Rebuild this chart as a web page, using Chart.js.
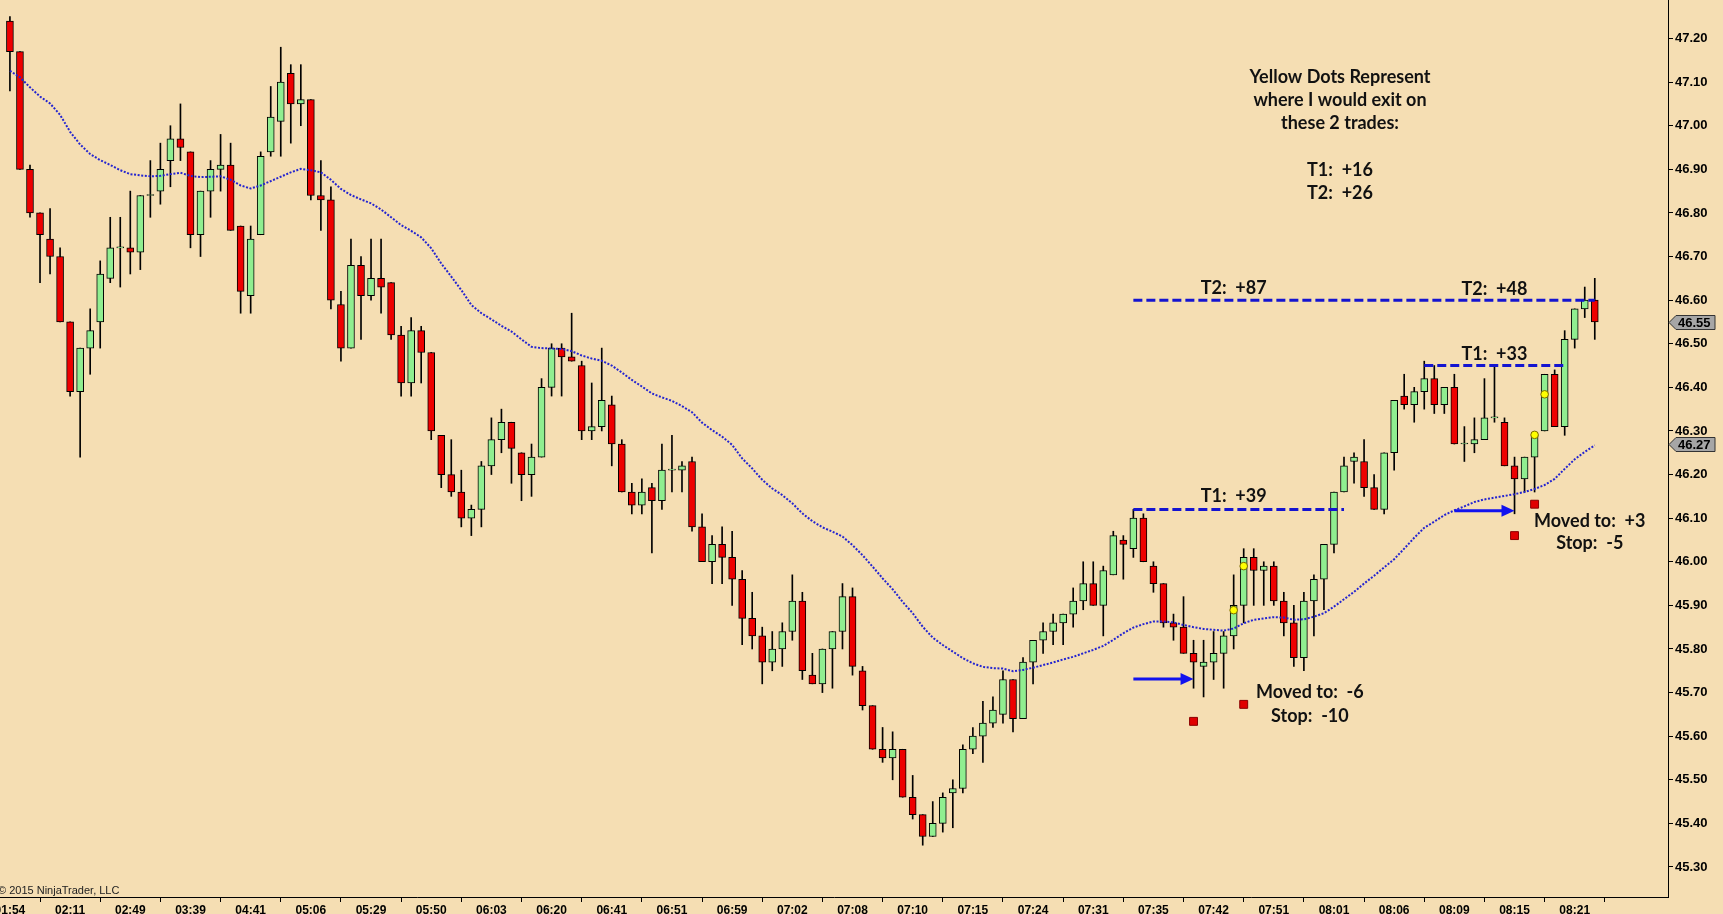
<!DOCTYPE html>
<html>
<head>
<meta charset="utf-8">
<script src="https://cdn.jsdelivr.net/npm/chart.js@4.4.1/dist/chart.umd.min.js"></script>
<style>
  html, body { margin: 0; padding: 0; background: #F5DEB3; overflow: hidden; }
  #wrap { width: 1723px; height: 914px; }
</style>
</head>
<body>
<div id="wrap"><canvas id="priceChart" width="1723" height="914"></canvas></div>
<script>
// time labels, one every 6 bars
const timeLabels = ['01:54', '02:11', '02:49', '03:39', '04:41', '05:06', '05:29', '05:50', '06:03',
    '06:20', '06:41', '06:51', '06:59', '07:02', '07:08', '07:10', '07:15', '07:24', '07:31',
    '07:35', '07:42', '07:51', '08:01', '08:06', '08:09', '08:15', '08:21'];
const labelStep = 6;

const yTicks = [45.30, 45.40, 45.50, 45.60, 45.70, 45.80, 45.90, 46.00, 46.10, 46.20,
    46.30, 46.40, 46.50, 46.60, 46.70, 46.80, 46.90, 47.00, 47.10, 47.20];

// OHLC
const opens = [47.24, 47.17, 46.90, 46.80, 46.74, 46.70, 46.55, 46.39, 46.49, 46.55,
    46.65, 46.72, 46.72, 46.71, 46.84, 46.85, 46.92, 46.97, 46.94, 46.75,
    46.85, 46.90, 46.91, 46.77, 46.61, 46.75, 46.94, 47.01, 47.12, 47.05,
    47.06, 46.84, 46.83, 46.59, 46.49, 46.68, 46.61, 46.65, 46.64, 46.52,
    46.41, 46.53, 46.48, 46.29, 46.20, 46.16, 46.10, 46.12, 46.22, 46.28,
    46.32, 46.25, 46.20, 46.24, 46.40, 46.49, 46.47, 46.45, 46.30, 46.31,
    46.36, 46.27, 46.16, 46.13, 46.17, 46.14, 46.21, 46.21, 46.23, 46.08,
    46.00, 46.04, 46.01, 45.96, 45.87, 45.83, 45.77, 45.80, 45.84, 45.91,
    45.74, 45.72, 45.80, 45.84, 45.92, 45.75, 45.67, 45.57, 45.55, 45.57,
    45.46, 45.42, 45.37, 45.40, 45.47, 45.48, 45.57, 45.60, 45.63, 45.65,
    45.73, 45.64, 45.77, 45.82, 45.84, 45.86, 45.88, 45.91, 45.95, 45.90,
    45.97, 46.05, 46.03, 46.10, 45.99, 45.95, 45.86, 45.85, 45.79, 45.76,
    45.77, 45.79, 45.83, 45.90, 46.01, 45.98, 45.99, 45.91, 45.86, 45.78,
    45.91, 45.96, 46.04, 46.16, 46.23, 46.23, 46.17, 46.12, 46.25, 46.38,
    46.36, 46.39, 46.42, 46.36, 46.40, 46.27, 46.27, 46.28, 46.33, 46.32,
    46.22, 46.19, 46.24, 46.30, 46.43, 46.31, 46.51, 46.58, 46.60];
const highs = [47.25, 47.17, 46.91, 46.80, 46.81, 46.72, 46.55, 46.49, 46.58, 46.69,
    46.79, 46.79, 46.85, 46.84, 46.92, 46.96, 47.00, 47.05, 46.94, 46.85,
    46.92, 46.98, 46.96, 46.77, 46.77, 46.94, 47.09, 47.18, 47.14, 47.14,
    47.06, 46.92, 46.86, 46.62, 46.74, 46.70, 46.74, 46.74, 46.64, 46.54,
    46.56, 46.54, 46.48, 46.29, 46.28, 46.21, 46.13, 46.23, 46.33, 46.35,
    46.32, 46.25, 46.27, 46.42, 46.50, 46.50, 46.57, 46.46, 46.41, 46.49,
    46.38, 46.28, 46.18, 46.19, 46.18, 46.27, 46.29, 46.23, 46.24, 46.11,
    46.06, 46.08, 46.07, 45.98, 45.93, 45.85, 45.84, 45.86, 45.97, 45.93,
    45.79, 45.80, 45.84, 45.95, 45.94, 45.76, 45.67, 45.62, 45.61, 45.57,
    45.51, 45.42, 45.45, 45.47, 45.50, 45.58, 45.62, 45.68, 45.69, 45.75,
    45.73, 45.78, 45.82, 45.86, 45.88, 45.88, 45.94, 46.00, 46.00, 45.99,
    46.07, 46.06, 46.12, 46.11, 46.00, 45.95, 45.88, 45.92, 45.82, 45.82,
    45.84, 45.84, 45.97, 46.03, 46.03, 46.00, 46.00, 45.93, 45.90, 45.93,
    45.97, 46.04, 46.16, 46.24, 46.25, 46.28, 46.20, 46.25, 46.37, 46.43,
    46.40, 46.46, 46.45, 46.40, 46.43, 46.31, 46.33, 46.42, 46.45, 46.33,
    46.24, 46.24, 46.29, 46.43, 46.44, 46.53, 46.58, 46.63, 46.65];
const lows = [47.08, 46.90, 46.79, 46.64, 46.66, 46.55, 46.38, 46.24, 46.43, 46.49,
    46.64, 46.63, 46.66, 46.67, 46.79, 46.82, 46.86, 46.92, 46.72, 46.70,
    46.79, 46.85, 46.76, 46.57, 46.57, 46.75, 46.93, 46.93, 46.96, 47.00,
    46.83, 46.76, 46.58, 46.46, 46.49, 46.51, 46.60, 46.57, 46.51, 46.38,
    46.38, 46.41, 46.28, 46.17, 46.15, 46.08, 46.06, 46.08, 46.20, 46.25,
    46.18, 46.14, 46.15, 46.24, 46.38, 46.38, 46.46, 46.28, 46.28, 46.30,
    46.22, 46.16, 46.11, 46.11, 46.02, 46.12, 46.16, 46.16, 46.07, 46.00,
    45.95, 45.95, 45.90, 45.81, 45.80, 45.72, 45.75, 45.76, 45.82, 45.73,
    45.72, 45.70, 45.71, 45.80, 45.74, 45.66, 45.57, 45.54, 45.50, 45.46,
    45.41, 45.35, 45.37, 45.38, 45.39, 45.47, 45.56, 45.54, 45.62, 45.63,
    45.61, 45.64, 45.72, 45.79, 45.81, 45.81, 45.85, 45.89, 45.90, 45.83,
    45.97, 45.96, 46.01, 46.00, 45.93, 45.85, 45.82, 45.79, 45.71, 45.69,
    45.73, 45.71, 45.80, 45.86, 45.90, 45.90, 45.90, 45.83, 45.76, 45.75,
    45.83, 45.89, 46.02, 46.16, 46.18, 46.15, 46.12, 46.11, 46.21, 46.35,
    46.32, 46.35, 46.34, 46.34, 46.27, 46.23, 46.25, 46.28, 46.32, 46.22,
    46.11, 46.16, 46.16, 46.30, 46.31, 46.29, 46.49, 46.56, 46.51];
const closes = [47.17, 46.90, 46.80, 46.75, 46.70, 46.55, 46.39, 46.49, 46.53, 46.66,
    46.72, 46.72, 46.71, 46.84, 46.84, 46.90, 46.97, 46.95, 46.75, 46.85,
    46.90, 46.91, 46.76, 46.62, 46.74, 46.93, 47.02, 47.10, 47.05, 47.06,
    46.84, 46.83, 46.60, 46.49, 46.68, 46.61, 46.65, 46.63, 46.52, 46.41,
    46.53, 46.48, 46.30, 46.20, 46.16, 46.10, 46.12, 46.22, 46.28, 46.32,
    46.26, 46.20, 46.24, 46.40, 46.49, 46.47, 46.46, 46.30, 46.31, 46.37,
    46.27, 46.16, 46.13, 46.16, 46.14, 46.21, 46.21, 46.22, 46.08, 46.00,
    46.04, 46.01, 45.96, 45.87, 45.83, 45.77, 45.80, 45.84, 45.91, 45.75,
    45.72, 45.80, 45.84, 45.92, 45.76, 45.67, 45.57, 45.55, 45.57, 45.46,
    45.42, 45.37, 45.40, 45.46, 45.48, 45.57, 45.60, 45.63, 45.66, 45.73,
    45.64, 45.77, 45.82, 45.84, 45.86, 45.88, 45.91, 45.95, 45.90, 45.98,
    46.06, 46.04, 46.10, 46.00, 45.95, 45.86, 45.85, 45.79, 45.77, 45.77,
    45.79, 45.83, 45.90, 46.01, 45.98, 45.99, 45.91, 45.86, 45.78, 45.91,
    45.96, 46.04, 46.16, 46.22, 46.24, 46.17, 46.12, 46.25, 46.37, 46.36,
    46.39, 46.42, 46.36, 46.40, 46.27, 46.27, 46.28, 46.33, 46.33, 46.22,
    46.19, 46.24, 46.29, 46.43, 46.31, 46.51, 46.58, 46.60, 46.55];

// dotted moving average
const maValues = [47.126, 47.111, 47.088, 47.067, 47.051, 47.025, 46.986, 46.957, 46.935, 46.921,
    46.910, 46.898, 46.889, 46.886, 46.884, 46.885, 46.889, 46.892, 46.885, 46.882,
    46.883, 46.884, 46.876, 46.863, 46.856, 46.863, 46.873, 46.883, 46.893, 46.901,
    46.898, 46.893, 46.876, 46.855, 46.841, 46.831, 46.822, 46.808, 46.790, 46.772,
    46.759, 46.744, 46.719, 46.684, 46.654, 46.623, 46.589, 46.570, 46.556, 46.541,
    46.528, 46.510, 46.493, 46.490, 46.489, 46.488, 46.483, 46.473, 46.466, 46.461,
    46.450, 46.434, 46.417, 46.402, 46.386, 46.377, 46.369, 46.357, 46.343, 46.319,
    46.302, 46.287, 46.268, 46.237, 46.214, 46.188, 46.168, 46.153, 46.134, 46.111,
    46.093, 46.079, 46.069, 46.058, 46.038, 46.015, 45.989, 45.962, 45.937, 45.908,
    45.882, 45.851, 45.826, 45.809, 45.794, 45.779, 45.767, 45.759, 45.756, 45.755,
    45.749, 45.752, 45.757, 45.763, 45.769, 45.776, 45.782, 45.790, 45.798, 45.807,
    45.821, 45.836, 45.849, 45.857, 45.863, 45.863, 45.861, 45.855, 45.850, 45.846,
    45.844, 45.842, 45.847, 45.859, 45.867, 45.870, 45.873, 45.872, 45.867, 45.868,
    45.874, 45.882, 45.897, 45.914, 45.931, 45.950, 45.968, 45.987, 46.006, 46.030,
    46.055, 46.078, 46.092, 46.107, 46.118, 46.127, 46.137, 46.143, 46.147, 46.151,
    46.155, 46.160, 46.167, 46.176, 46.190, 46.213, 46.235, 46.252, 46.267];

// dashed target lines (price, first bar, last bar)
const targetLevels = [46.60, 46.12, 46.45];
const targetStart = [112, 112, 141];
const targetEnd = [158, 133, 155];

// exit dots and stop squares (bar index, price)
const exitBars = [122, 123, 152, 153];
const exitPrices = [45.889, 45.990, 46.291, 46.384];
const stopBars = [118, 123, 150, 152];
const stopPrices = [45.634, 45.673, 46.060, 46.132];

// arrows: from bar, to bar, price
const arrowFrom = [112, 144];
const arrowTo = [118, 150];
const arrowPrice = [45.731, 46.117];

// notes on the chart: text, bar index, price
const noteTexts = ['Yellow Dots Represent', 'where I would exit on', 'these 2 trades:', 'T1:  +16', 'T2:  +26',
    'T2:  +87', 'T1:  +39', 'T2:  +48', 'T1:  +33',
    'Moved to:  -6', 'Stop:  -10', 'Moved to:  +3', 'Stop:  -5'];
const noteBars = [132.6, 132.6, 132.6, 132.6, 132.6, 122, 122, 148, 148, 129.6, 129.6, 157.5, 157.5];
const notePrices = [47.112, 47.059, 47.006, 46.898, 46.845, 46.627, 46.151, 46.625, 46.476,
    45.700, 45.647, 46.093, 46.043];

// price flags on the right axis: last close, moving average
const flagPrices = [46.55, 46.27];

document.addEventListener('DOMContentLoaded', function () {
    const ctx = document.getElementById('priceChart').getContext('2d');
    const axisFont = { family: 'Liberation Sans', size: 12, weight: 'bold' };

    const overlay = {
        id: 'overlay',
        beforeDraw(chart) {
            const c = chart.ctx;
            c.save();
            c.fillStyle = '#F5DEB3';
            c.fillRect(0, 0, chart.width, chart.height);
            c.restore();
        },
        afterDatasetsDraw(chart) {
            const c = chart.ctx;
            const { x, y } = chart.scales;
            c.save();
            // arrows
            c.strokeStyle = '#1212EE';
            c.fillStyle = '#1212EE';
            c.lineWidth = 3;
            arrowFrom.forEach((f, k) => {
                const x0 = x.getPixelForValue(f), x1 = x.getPixelForValue(arrowTo[k]);
                const py = y.getPixelForValue(arrowPrice[k]);
                c.beginPath();
                c.moveTo(x0, py);
                c.lineTo(x1 - 10, py);
                c.stroke();
                c.beginPath();
                c.moveTo(x1, py);
                c.lineTo(x1 - 13, py - 6);
                c.lineTo(x1 - 13, py + 6);
                c.closePath();
                c.fill();
            });
            // notes
            c.fillStyle = '#111';
            c.font = 'bold 18px Lato';
            c.textAlign = 'center';
            c.textBaseline = 'middle';
            noteTexts.forEach((t, k) => {
                c.fillText(t, x.getPixelForValue(noteBars[k]), y.getPixelForValue(notePrices[k]));
            });
            // copyright
            c.font = '11px "Liberation Sans"';
            c.textAlign = 'left';
            c.textBaseline = 'alphabetic';
            c.fillStyle = '#222';
            c.fillText('\u00A9 2015 NinjaTrader, LLC', -2, chart.chartArea.bottom - 3);
            c.restore();
        },
        afterDraw(chart) {
            const c = chart.ctx;
            const y = chart.scales.y;
            const ax = chart.chartArea.right;
            c.save();
            c.font = 'bold 13px "Liberation Sans"';
            c.textBaseline = 'middle';
            c.textAlign = 'left';
            flagPrices.forEach(p => {
                const py = Math.round(y.getPixelForValue(p)) + 0.5;
                c.beginPath();
                c.moveTo(ax + 1, py);
                c.lineTo(ax + 8, py - 7);
                c.lineTo(ax + 47, py - 7);
                c.lineTo(ax + 47, py + 7);
                c.lineTo(ax + 8, py + 7);
                c.closePath();
                c.fillStyle = '#A6A6A6';
                c.fill();
                c.strokeStyle = '#333';
                c.lineWidth = 1;
                c.stroke();
                c.fillStyle = '#000';
                c.fillText(p.toFixed(2), ax + 10, py + 1);
            });
            c.restore();
        }
    };

    const bodyColors = opens.map((o, i) => closes[i] >= o ? '#90EE90' : '#EE0000');

    new Chart(ctx, {
        type: 'bar',
        data: {
            datasets: [
                {
                    label: 'Wick',
                    data: highs.map((h, i) => ({ x: i, y: [lows[i], h] })),
                    backgroundColor: '#000',
                    borderWidth: 0,
                    barThickness: 1,
                    grouped: false,
                    order: 10
                },
                {
                    label: 'Body',
                    data: opens.map((o, i) => ({ x: i, y: [o, closes[i]] })),
                    backgroundColor: bodyColors,
                    borderColor: '#000',
                    borderWidth: 1,
                    borderSkipped: false,
                    barThickness: 7,
                    minBarLength: 1,
                    grouped: false,
                    order: 9
                },
                {
                    type: 'line',
                    label: 'MA',
                    data: maValues.map((v, i) => ({ x: i, y: v })),
                    borderColor: '#2424D0',
                    borderWidth: 2,
                    borderDash: [2, 1.6],
                    pointRadius: 0,
                    tension: 0,
                    order: 4
                },
                ...targetLevels.map((lvl, k) => ({
                    type: 'line',
                    label: 'Target ' + k,
                    data: [{ x: targetStart[k], y: lvl }, { x: targetEnd[k], y: lvl }],
                    borderColor: '#1414D0',
                    borderWidth: 3,
                    borderDash: [9, 4],
                    pointRadius: 0,
                    order: 3
                })),
                {
                    type: 'line',
                    label: 'Stops',
                    data: stopBars.map((b, k) => ({ x: b, y: stopPrices[k] })),
                    showLine: false,
                    pointStyle: 'rect',
                    pointRadius: 5.6,
                    pointBackgroundColor: '#E00000',
                    pointBorderColor: '#8A0000',
                    pointBorderWidth: 1,
                    order: 2
                },
                {
                    type: 'line',
                    label: 'Exits',
                    data: exitBars.map((b, k) => ({ x: b, y: exitPrices[k] })),
                    showLine: false,
                    pointStyle: 'circle',
                    pointRadius: 3.8,
                    pointBackgroundColor: '#FFFF00',
                    pointBorderColor: '#7A6A00',
                    pointBorderWidth: 1,
                    order: 1
                }
            ]
        },
        options: {
            responsive: false,
            animation: false,
            layout: { padding: 0, autoPadding: false },
            plugins: { legend: { display: false }, tooltip: { enabled: false } },
            scales: {
                x: {
                    type: 'linear',
                    min: -0.99,
                    max: 165.3,
                    offset: false,
                    afterBuildTicks: s => { s.ticks = timeLabels.map((t, k) => ({ value: k * labelStep })); },
                    afterFit: s => { s.height = 17; s.paddingLeft = 0; s.paddingRight = 0; },
                    grid: { drawOnChartArea: false, tickLength: 5, color: '#000' },
                    border: { display: true, color: '#000' },
                    ticks: {
                        autoSkip: false, maxRotation: 0, padding: 1, color: '#000', font: axisFont,
                        callback: (v, idx) => timeLabels[idx]
                    }
                },
                y: {
                    type: 'linear',
                    position: 'right',
                    min: 45.2312,
                    max: 47.2883,
                    afterBuildTicks: s => { s.ticks = yTicks.map(v => ({ value: v })); },
                    afterFit: s => { s.width = 55; s.paddingTop = 0; s.paddingBottom = 0; },
                    grid: { drawOnChartArea: false, tickLength: 5, color: '#000' },
                    border: { display: true, color: '#000' },
                    ticks: {
                        autoSkip: false, padding: 2, color: '#000',
                        font: { family: 'Liberation Sans', size: 13, weight: 'bold' },
                        callback: v => v.toFixed(2)
                    }
                }
            }
        },
        plugins: [overlay]
    });
});
</script>
</body>
</html>
